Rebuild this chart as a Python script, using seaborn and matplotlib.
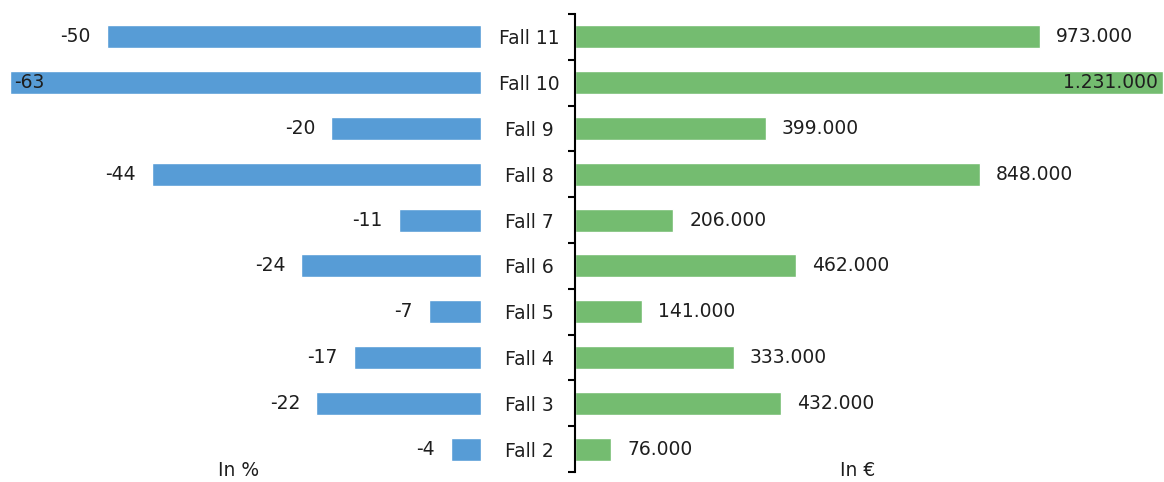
import numpy as np
import pandas as pd
import matplotlib
matplotlib.use("Agg")
import matplotlib.pyplot as plt
import seaborn as sns

# ---------------------------------------------------------------------------
# data
# ---------------------------------------------------------------------------
cases = ["Fall 11", "Fall 10", "Fall 9", "Fall 8", "Fall 7",
         "Fall 6", "Fall 5", "Fall 4", "Fall 3", "Fall 2"]
pct_change = [-50, -63, -20, -44, -11, -24, -7, -17, -22, -4]
amount_eur = [973000, 1231000, 399000, 848000, 206000,
              462000, 141000, 333000, 432000, 76000]
left_title = "In %"
right_title = "In €"

BLUE = "#579CD6"
GREEN = "#74BC70"
TXT = "#1e1e1e"

df = pd.DataFrame({"case": cases, "pct": pct_change, "eur": amount_eur})

sns.set_style("white")
plt.rcParams["font.family"] = ["DejaVu Sans"]
FS = 13.5


def de_thousands(v):
    return f"{v:,.0f}".replace(",", ".")


W, H = 1164, 482
fig = plt.figure(figsize=(W / 100, H / 100), dpi=100)

top_px, bot_px = 14, 472
ax_b = (H - bot_px) / H
ax_h = (bot_px - top_px) / H

ax_l = fig.add_axes([0, ax_b, 481 / W, ax_h])
ax_r = fig.add_axes([575 / W, ax_b, (W - 575) / W, ax_h])

# left panel: percentage change
sns.barplot(data=df, x="pct", y="case", orient="h", color=BLUE,
            width=0.5, saturation=1, ax=ax_l)
ax_l.set_xlim(-64.3, 0)
for sp in ax_l.spines.values():
    sp.set_visible(False)
ax_l.set_xticks([])
ax_l.set_yticks([])
ax_l.set_xlabel("")
ax_l.set_ylabel("")

for i, v in enumerate(pct_change):
    if v == min(pct_change):
        ax_l.annotate(str(v), (v, i), xytext=(3.5, 0), textcoords="offset points",
                      ha="left", va="center", fontsize=FS, color=TXT)
    else:
        ax_l.annotate(str(v), (v, i), xytext=(-11.5, 0), textcoords="offset points",
                      ha="right", va="center", fontsize=FS, color=TXT)

ax_l.text(0.495, 0.004, left_title, transform=ax_l.transAxes,
          ha="center", va="center", fontsize=FS, color=TXT)

# right panel: amounts in euro
sns.barplot(data=df, x="eur", y="case", orient="h", color=GREEN,
            width=0.5, saturation=1, ax=ax_r)
ax_r.set_xlim(0, 1233000)
for name, sp in ax_r.spines.items():
    sp.set_visible(name == "left")
ax_r.spines["left"].set_color("black")
ax_r.spines["left"].set_linewidth(1.5)
ax_r.set_xticks([])
ax_r.set_xlabel("")
ax_r.set_ylabel("")

# category labels centred between the panels, ticks on category boundaries
ax_r.set_yticks(range(len(cases)))
ax_r.set_yticklabels(cases)
ax_r.set_yticks(np.arange(-0.5, len(cases)), minor=True)
ax_r.tick_params(axis="y", which="both", left=True)
ax_r.tick_params(axis="y", which="major", length=0, pad=33, labelsize=FS,
                 labelcolor=TXT)
ax_r.tick_params(axis="y", which="minor", length=5, width=1.5,
                 direction="out", color="black")
for lab in ax_r.get_yticklabels():
    lab.set_horizontalalignment("center")

for i, v in enumerate(amount_eur):
    if v == max(amount_eur):
        ax_r.annotate(de_thousands(v), (v, i), xytext=(-3.5, 0),
                      textcoords="offset points", ha="right", va="center",
                      fontsize=FS, color=TXT)
    else:
        ax_r.annotate(de_thousands(v), (v, i), xytext=(11.5, 0),
                      textcoords="offset points", ha="left", va="center",
                      fontsize=FS, color=TXT)

ax_r.text(0.48, 0.004, right_title, transform=ax_r.transAxes,
          ha="center", va="center", fontsize=FS, color=TXT)

fig.savefig("out.png", dpi=100)
